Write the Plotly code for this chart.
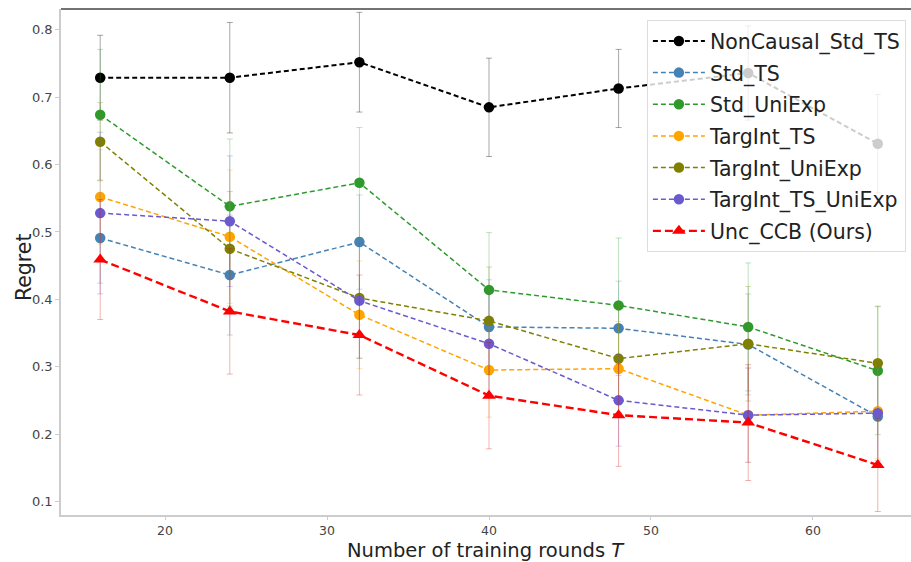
import plotly.graph_objects as go

rounds = [16, 24, 32, 40, 48, 56, 64]

names = ["NonCausal_Std_TS", "Std_TS", "Std_UniExp", "TargInt_TS",
         "TargInt_UniExp", "TargInt_TS_UniExp", "Unc_CCB (Ours)"]

noncausal_std_ts = [0.729, 0.729, 0.752, 0.685, 0.713, 0.736, 0.631]
std_ts = [0.491, 0.436, 0.485, 0.359, 0.357, 0.333, 0.226]
std_uniexp = [0.674, 0.538, 0.573, 0.414, 0.391, 0.359, 0.294]
targint_ts = [0.552, 0.493, 0.377, 0.295, 0.297, 0.228, 0.234]
targint_uniexp = [0.634, 0.475, 0.402, 0.368, 0.312, 0.334, 0.305]
targint_ts_uniexp = [0.528, 0.516, 0.398, 0.334, 0.250, 0.228, 0.231]
unc_ccb = [0.459, 0.382, 0.347, 0.257, 0.228, 0.217, 0.154]

err_noncausal = [0.063, 0.082, 0.074, 0.073, 0.058, 0.070, 0.073]
err_std_ts = [0.067, 0.089, 0.070, 0.070, 0.070, 0.075, 0.070]
err_std_uniexp = [0.097, 0.100, 0.082, 0.085, 0.100, 0.095, 0.095]
err_targint_ts = [0.070, 0.099, 0.080, 0.070, 0.070, 0.070, 0.070]
err_targint_uniexp = [0.058, 0.085, 0.090, 0.080, 0.080, 0.085, 0.085]
err_targint_ts_uniexp = [0.120, 0.097, 0.085, 0.075, 0.068, 0.070, 0.070]
err_unc_ccb = [0.089, 0.093, 0.089, 0.079, 0.076, 0.086, 0.069]

series = [noncausal_std_ts, std_ts, std_uniexp, targint_ts,
          targint_uniexp, targint_ts_uniexp, unc_ccb]
errors = [err_noncausal, err_std_ts, err_std_uniexp, err_targint_ts,
          err_targint_uniexp, err_targint_ts_uniexp, err_unc_ccb]
colors = ["#000000", "#4682B4", "#2E9A2E", "#FFA500", "#808000", "#6A5ACD", "#FF0000"]
err_colors = ["rgba(0,0,0,0.35)", "rgba(70,130,180,0.3)", "rgba(46,154,46,0.3)",
              "rgba(255,165,0,0.3)", "rgba(128,128,0,0.3)", "rgba(106,90,205,0.3)",
              "rgba(220,0,0,0.3)"]

fig = go.Figure()
for i, (nm, ys, es) in enumerate(zip(names, series, errors)):
    is_ours = i == len(names) - 1
    is_black = i == 0
    fig.add_trace(go.Scatter(
        x=rounds, y=ys, name=nm, mode="lines+markers", legendgroup=nm,
        line=dict(color=colors[i], width=2.4 if is_ours else (2 if is_black else 1.5),
                  dash="8px,4px" if is_ours else "5px,3px"),
        marker=dict(color=colors[i], size=12 if is_ours else 10.5,
                    symbol="triangle-up" if is_ours else "circle"),
        error_y=dict(type="data", array=es, visible=True, color=err_colors[i],
                     thickness=1, width=3),
    ))

fig.add_shape(type="line", xref="paper", yref="paper", x0=0, x1=1, y0=1, y1=1,
              line=dict(color="#444444", width=1.5))

fig.add_annotation(text="Regret", xref="paper", yref="paper", x=-0.0435, y=0.49,
                   xanchor="center", yanchor="middle", textangle=-90, showarrow=False,
                   font=dict(size=20.5, color="#222222"))
fig.add_annotation(text="Number of training rounds <i>T</i>", xref="paper", yref="paper",
                   x=0.5, y=-0.0692, xanchor="center", yanchor="middle", showarrow=False,
                   borderpad=0, font=dict(size=19.5, color="#222222"))

fig.update_layout(
    width=911, height=562,
    margin=dict(l=61, r=0, t=9, b=47, autoexpand=False),
    paper_bgcolor="white", plot_bgcolor="white",
    font=dict(family="DejaVu Sans", color="#333333"),
    showlegend=True,
    legend=dict(x=0.994, y=0.978, xanchor="right", yanchor="top",
                bgcolor="rgba(255,255,255,0.8)", bordercolor="#dddddd", borderwidth=1,
                font=dict(size=20.5, color="#222222"), tracegroupgap=2, itemwidth=52),
    xaxis=dict(range=[13.58, 66.05], tickvals=[20, 30, 40, 50, 60],
               showgrid=False, zeroline=False, showline=True, linecolor="#cccccc",
               linewidth=1.5, ticks="outside", ticklen=3, tickcolor="#cccccc",
               tickfont=dict(size=12.5, color="#444444")),
    yaxis=dict(range=[0.0798, 0.831], tickvals=[0.1, 0.2, 0.3, 0.4, 0.5, 0.6, 0.7, 0.8],
               ticktext=["0.1", "0.2", "0.3", "0.4", "0.5", "0.6", "0.7", "0.8"],
               showgrid=False, zeroline=False, showline=True, linecolor="#cccccc",
               linewidth=1.5, ticks="outside", ticklen=4, tickcolor="#cccccc",
               tickfont=dict(size=13, color="#444444")),
)

fig.write_html("out.html", post_script="document.body.style.margin='0';",
               config={"displayModeBar": False})
